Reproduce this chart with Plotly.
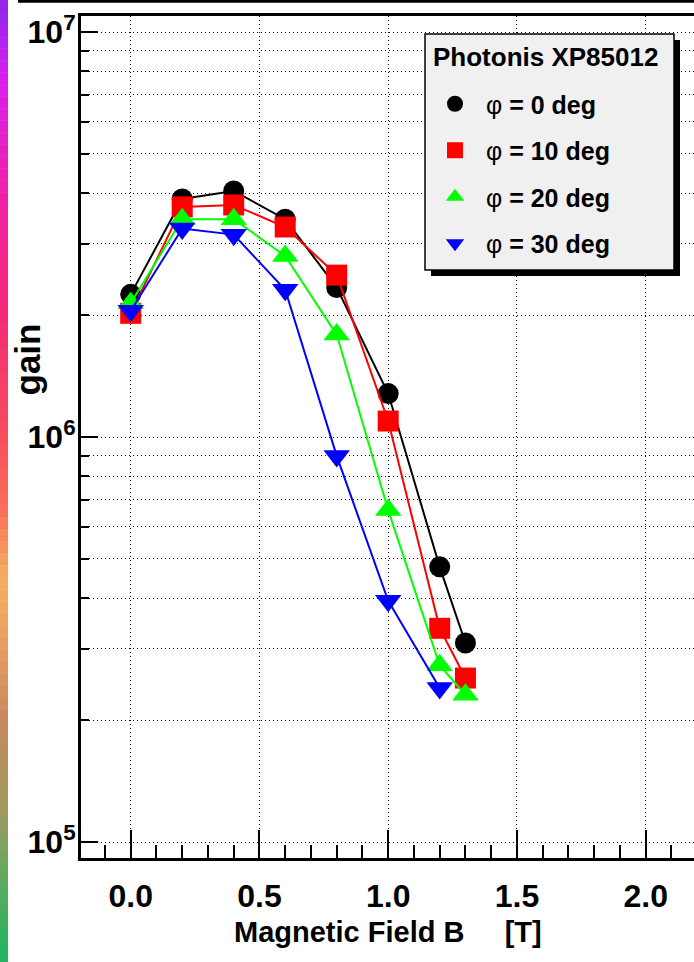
import plotly.graph_objects as go

# ---------------- data ----------------
field_T = [0.0, 0.2, 0.4, 0.6, 0.8, 1.0, 1.2, 1.3]
field_T_phi30 = [0.0, 0.2, 0.4, 0.6, 0.8, 1.0, 1.2]

gain_phi0 = [2.25e6, 3.87e6, 4.05e6, 3.45e6, 2.34e6, 1.28e6, 4.78e5, 3.10e5]
gain_phi10 = [2.02e6, 3.70e6, 3.74e6, 3.30e6, 2.51e6, 1.095e6, 3.37e5, 2.54e5]
gain_phi20 = [2.14e6, 3.45e6, 3.45e6, 2.80e6, 1.79e6, 6.6e5, 2.73e5, 2.31e5]
gain_phi30 = [2.05e6, 3.27e6, 3.16e6, 2.31e6, 8.98e5, 3.94e5, 2.40e5]

series_names = ["φ = 0 deg", "φ = 10 deg", "φ = 20 deg", "φ = 30 deg"]
legend_title = "Photonis XP85012"

x_tick_vals = [0.0, 0.5, 1.0, 1.5, 2.0]
x_tick_text = ["0.0", "0.5", "1.0", "1.5", "2.0"]
y_tick_vals = [1e5, 1e6, 1e7]
y_tick_text = ["10<sup>5</sup>", "10<sup>6</sup>", "10<sup>7</sup>"]
y_minor_vals = [m * 10 ** e for e in (5, 6) for m in range(2, 10)]

x_title = "Magnetic Field B\u00a0\u00a0\u00a0\u00a0\u00a0[T]"
y_title = "gain"

# ---------------- styles ----------------
W, H = 694, 962
ML, MT, MB = 81, 16, 104
PW, PH = W - ML, H - MT - MB
FONT = "Liberation Sans, Arial, Helvetica, sans-serif"

colors = ["#000000", "#ff0000", "#00ff00", "#0000ff"]
symbols = ["circle", "square", "triangle-up", "triangle-down"]
sizes = [21, 21, 23, 23]


def px_x(p):
    return (p - ML) / PW


def px_y(p):
    return (MT + PH - p) / PH


fig = go.Figure()

xs = [field_T, field_T, field_T, field_T_phi30]
ys = [gain_phi0, gain_phi10, gain_phi20, gain_phi30]
for i in range(4):
    fig.add_trace(go.Scatter(
        x=xs[i], y=ys[i], mode="lines+markers",
        line=dict(color=colors[i], width=2),
        marker=dict(symbol=symbols[i], size=sizes[i], color=colors[i], line=dict(width=0)),
        showlegend=False, legendgroup=f"g{i}", hoverinfo="skip"))
for i in range(4):
    fig.add_trace(go.Scatter(
        x=[None], y=[None], mode="markers",
        name=series_names[i].replace("φ", "<span style='font-weight:normal'>φ</span>"),
        marker=dict(symbol=symbols[i], size=sizes[i], color=colors[i]),
        legendgroup=f"g{i}", showlegend=True))

shapes = []
# left colour strip (decoration)
stops = [(0.00, (140, 40, 232)), (0.08, (216, 30, 240)), (0.20, (240, 32, 168)),
         (0.32, (244, 40, 120)), (0.45, (248, 76, 92)), (0.53, (248, 112, 88)),
         (0.60, (244, 176, 96)), (0.66, (236, 160, 96)), (0.75, (200, 136, 96)),
         (0.85, (156, 156, 96)), (0.93, (80, 172, 96)), (1.00, (32, 180, 96))]


def col_at(t):
    for (t0, c0), (t1, c1) in zip(stops[:-1], stops[1:]):
        if t0 <= t <= t1:
            f = (t - t0) / (t1 - t0) if t1 > t0 else 0
            return "rgb(%d,%d,%d)" % tuple(round(a + (b - a) * f) for a, b in zip(c0, c1))
    return "rgb(32,180,96)"


n = 80
for k in range(n):
    y0p, y1p = k * H / n, (k + 1) * H / n + 0.5
    shapes.append(dict(type="rect", xref="paper", yref="paper",
                       x0=px_x(0), x1=px_x(8), y0=px_y(y1p), y1=px_y(y0p),
                       fillcolor=col_at((k + 0.5) / n), line=dict(width=0), layer="above"))
# top canvas line
shapes.append(dict(type="rect", xref="paper", yref="paper", x0=px_x(18), x1=px_x(694),
                   y0=px_y(2.7), y1=px_y(0), fillcolor="black", line=dict(width=0), layer="above"))
# legend shadow and box
shapes.append(dict(type="rect", xref="paper", yref="paper", x0=px_x(431), x1=px_x(680),
                   y0=px_y(276), y1=px_y(40), fillcolor="black", line=dict(width=0), layer="above"))
shapes.append(dict(type="rect", xref="paper", yref="paper", x0=px_x(425), x1=px_x(674),
                   y0=px_y(270), y1=px_y(34), fillcolor="#f0f0f0",
                   line=dict(color="black", width=1.5), layer="above"))

grid = dict(gridcolor="black", gridwidth=1, griddash="1px,3px")

fig.update_layout(
    width=W, height=H,
    margin=dict(l=ML, r=0, t=MT, b=MB, autoexpand=False),
    paper_bgcolor="white", plot_bgcolor="white",
    font=dict(family=FONT, color="black", size=25, weight="bold"),
    shapes=shapes,
    showlegend=True,
    legend=dict(
        x=px_x(424), y=px_y(81), xanchor="left", yanchor="top",
        bgcolor="rgba(0,0,0,0)", borderwidth=0,
        font=dict(family=FONT, size=25, color="black", weight="bold"),
        itemwidth=52, tracegroupgap=11, traceorder="grouped",
    ),
    xaxis=dict(
        range=[-0.193, 2.1876], showline=True, linewidth=3, linecolor="black", mirror=True,
        ticks="inside", ticklen=28, tickwidth=1.5, tickcolor="black",
        tickmode="array", tickvals=x_tick_vals, ticktext=x_tick_text,
        tickfont=dict(family=FONT, size=32, color="black", weight="bold"),
        ticklabelstandoff=8,
        showgrid=True, **grid, zeroline=False,
        minor=dict(dtick=0.1, tick0=0, ticks="inside", ticklen=13, tickwidth=1.5,
                   tickcolor="black", showgrid=False),
    ),
    yaxis=dict(
        type="log", range=[4.9605, 7.0395], showline=True, linewidth=3, linecolor="black",
        mirror=False,
        ticks="inside", ticklen=17, tickwidth=1.5, tickcolor="black",
        tickmode="array", tickvals=y_tick_vals, ticktext=y_tick_text,
        tickfont=dict(family=FONT, size=32, color="black", weight="bold"),
        ticklabelstandoff=-4,
        showgrid=True, **grid, zeroline=False,
        minor=dict(tickmode="array", tickvals=y_minor_vals, ticks="inside", ticklen=8,
                   tickwidth=1.5, tickcolor="black", showgrid=True, **grid),
    ),
    annotations=[
        dict(text=legend_title, xref="paper", yref="paper", x=px_x(431), y=px_y(57),
             xanchor="left", yanchor="middle", showarrow=False,
             font=dict(family=FONT, size=26, color="black", weight="bold")),
        dict(text=x_title, xref="paper", yref="paper", x=0.5, y=px_y(932),
             xanchor="center", yanchor="middle", showarrow=False,
             font=dict(family=FONT, size=29, color="black", weight="bold")),
        dict(text=y_title, xref="paper", yref="paper", x=px_x(27), y=px_y(359.5),
             xanchor="center", yanchor="middle", showarrow=False, textangle=-90,
             font=dict(family=FONT, size=35, color="black", weight="bold")),
    ],
)

fig.write_html("out.html")
